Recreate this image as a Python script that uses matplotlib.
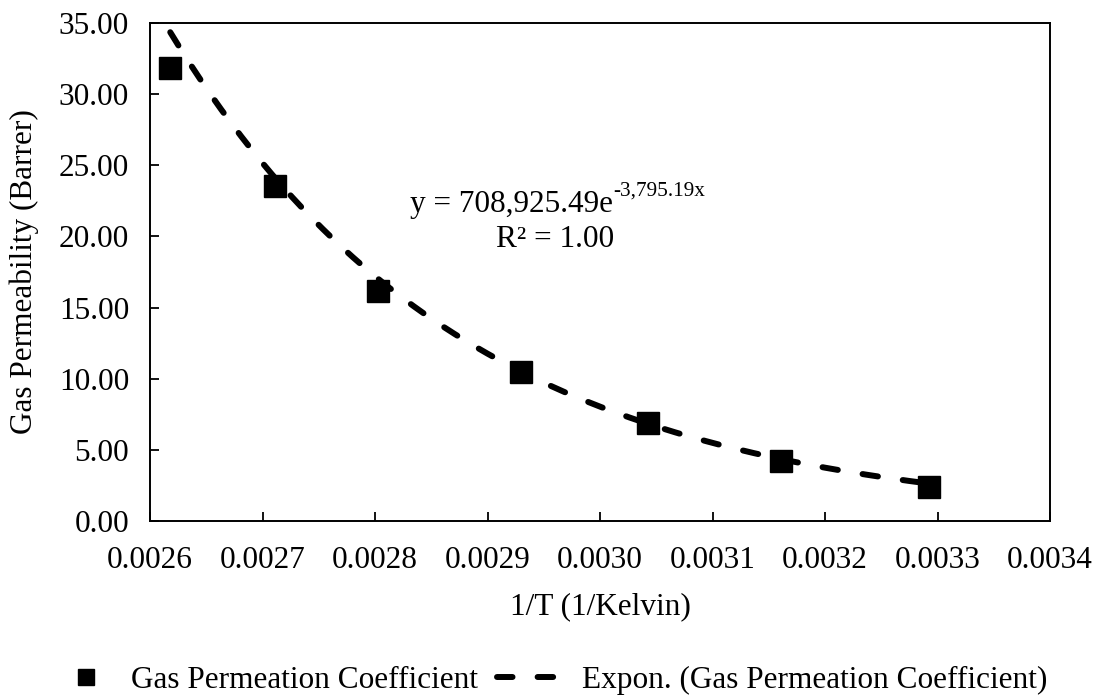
import numpy as np
import matplotlib.pyplot as plt
from matplotlib.ticker import FormatStrFormatter, MultipleLocator

plt.rcParams['font.family'] = ['Liberation Serif', 'DejaVu Serif']

# 1/T (1/K) and measured permeability (Barrer)
inv_temp = [0.002618, 0.0027115, 0.0028023, 0.0029297, 0.003043, 0.0031613, 0.0032926]
permeability = [31.81, 23.53, 16.17, 10.48, 6.90, 4.22, 2.39]

# exponential trendline coefficients, y = a * exp(b * x)
fit_a = 708925.49
fit_b = -3795.19
fit_r2 = 1.00

fs = 22.5

fig = plt.figure(figsize=(11.06, 6.98), dpi=100)
ax = fig.add_axes([150 / 1106, 1 - 521.4 / 698, 900 / 1106, 498.9 / 698])

# trendline first, markers on top
xf = np.linspace(min(inv_temp), max(inv_temp), 300)
yf = fit_a * np.exp(fit_b * xf)
ax.plot(xf, yf, color='black', lw=4.3, ls=(0, (2.6, 4.2)), dash_capstyle='round',
        label='Expon. (Gas Permeation Coefficient)', zorder=2)
ax.plot(inv_temp, permeability, ls='none', marker='s', ms=16.5, color='black',
        label='Gas Permeation Coefficient', zorder=3)

ax.set_xlim(0.0026, 0.0034)
ax.set_ylim(0, 35)
ax.xaxis.set_major_locator(MultipleLocator(0.0001))
ax.yaxis.set_major_locator(MultipleLocator(5))
ax.xaxis.set_major_formatter(FormatStrFormatter('%.4f'))
ax.yaxis.set_major_formatter(FormatStrFormatter('%.2f'))

ax.tick_params(direction='in', length=6.2, width=1.3, labelsize=fs, colors='black')
ax.tick_params(axis='x', pad=18)
ax.tick_params(axis='y', pad=15)
for sp in ax.spines.values():
    sp.set_linewidth(1.4)
    sp.set_color('black')

ax.set_xlabel('1/T (1/Kelvin)', fontsize=fs, labelpad=12)
ax.set_ylabel('Gas Permeability (Barrer)', fontsize=fs, labelpad=14)

# trendline equation and R squared
eq = ax.text(0.5144, 0.6208, 'y = {:,.2f}e'.format(fit_a), transform=ax.transAxes,
             ha='right', va='baseline', fontsize=fs)
ax.annotate('{:,.2f}x'.format(fit_b), xy=(1, 0), xycoords=eq, xytext=(0, 17),
            textcoords='offset points', ha='left', va='baseline', fontsize=15.3)
ax.text(0.45, 0.5506, 'R\u00b2 = {:.2f}'.format(fit_r2), transform=ax.transAxes,
        ha='center', va='baseline', fontsize=fs)

handles, labels = ax.get_legend_handles_labels()
leg = fig.legend(handles[::-1], labels[::-1], loc='center', bbox_to_anchor=(547 / 1106, 1 - 680 / 698),
                 ncol=2, frameon=False, fontsize=fs, handlelength=2.5, handletextpad=0.2,
                 columnspacing=0.6, markerscale=0.7, borderpad=0)

fig.savefig('out.png', dpi=100)
